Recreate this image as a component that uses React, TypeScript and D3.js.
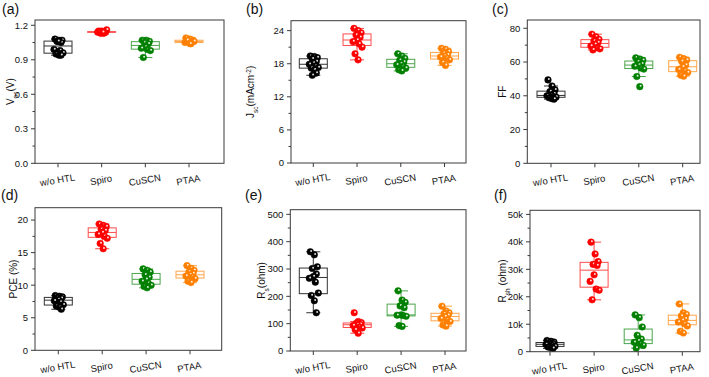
import React from "react";
import * as d3 from "d3";

const CATEGORIES = ["w/o HTL", "Spiro", "CuSCN", "PTAA"];
const COLORS = ["#000000", "#ff0000", "#008000", "#ff8000"];

const VOC = [
  [1.08, 1.07, 1.07, 1.06, 1.05, 1.06, 0.99, 0.98, 0.96, 0.95, 0.94, 0.94],
  [1.15, 1.14, 1.14, 1.13, 1.14, 1.15, 1.14, 1.13, 1.16, 1.14, 1.14],
  [1.07, 1.07, 1.06, 1.05, 1.04, 1.01, 1.0, 0.99, 0.98, 0.92],
  [1.09, 1.08, 1.07, 1.06, 1.06, 1.05, 1.05, 1.04, 1.06, 1.07, 1.04],
];
const JSC = [
  [19.4, 19.3, 19.1, 18.9, 18.4, 18.1, 17.9, 17.6, 17.3, 17.2, 16.9, 16.3, 15.9],
  [24.4, 24.0, 23.6, 23.2, 22.8, 22.3, 22.0, 21.6, 21.0, 19.8, 18.7],
  [19.8, 19.4, 19.0, 18.6, 18.3, 18.0, 17.8, 17.5, 17.2, 16.9, 16.7],
  [20.8, 20.6, 20.2, 19.9, 19.6, 19.4, 19.2, 19.0, 18.7, 18.2, 17.7],
];
const FF = [
  [49.4, 45.8, 43.5, 42.5, 41.2, 40.4, 40.0, 39.6, 39.2, 38.8, 38.3, 38.0],
  [76.5, 75.0, 73.5, 72.5, 71.5, 70.5, 69.5, 68.5, 67.8, 67.2],
  [62.5, 61.8, 61.0, 60.2, 59.0, 58.2, 57.5, 56.5, 55.8, 51.4, 45.4],
  [62.8, 62.0, 61.2, 60.4, 58.2, 57.2, 55.6, 54.8, 53.8, 52.2, 51.6],
];
const PCE = [
  [8.4, 8.3, 8.2, 8.1, 8.0, 7.8, 7.6, 7.4, 7.0, 6.8, 6.6, 6.3],
  [19.4, 19.2, 19.0, 18.6, 18.4, 18.1, 17.8, 17.5, 17.2, 16.4, 15.6],
  [12.5, 12.3, 12.0, 11.6, 11.2, 10.9, 10.6, 10.3, 10.0, 9.8, 9.6],
  [13.0, 12.6, 12.3, 12.0, 11.8, 11.6, 11.4, 11.2, 11.0, 10.6, 10.4],
];
const RS = [
  [363, 352, 308, 302, 282, 272, 266, 252, 212, 203, 184, 140],
  [140, 108, 104, 101, 98, 96, 93, 88, 84, 78, 65],
  [220, 186, 178, 165, 158, 132, 131, 130, 127, 93, 90],
  [164, 146, 140, 136, 131, 126, 119, 113, 108, 95, 91],
];
// in k-ohm
const RSH = [
  [4.1, 3.8, 3.5, 3.3, 3.0, 2.8, 2.6, 2.3, 2.0, 1.7, 1.4, 1.2],
  [39.9, 35.6, 32.8, 31.8, 31.4, 28.0, 25.6, 22.8, 22.4, 18.9],
  [13.4, 12.4, 9.0, 6.0, 4.6, 4.0, 3.4, 2.8, 2.3, 1.3],
  [17.4, 14.2, 13.6, 13.0, 12.0, 11.4, 10.8, 10.2, 9.4, 7.4, 6.8],
];

const VOC_TICKS = [0, 0.3, 0.6, 0.9, 1.2];
const JSC_TICKS = [0, 6, 12, 18, 24];
const FF_TICKS = [0, 20, 40, 60, 80];
const PCE_TICKS = [0, 5, 10, 15, 20];
const RS_TICKS = [0, 100, 200, 300, 400, 500];
const RSH_TICKS = [0, 10, 20, 30, 40, 50];

const FONT = "Arial, 'Liberation Sans', sans-serif";
const JITTER = [-3, 1, 4, -1, 3, 0, -4, 2, 5, -2, 1, 3, -1];

const sub = (t: string) => (
  <tspan baselineShift="sub" fontSize={6.5}>{t}</tspan>
);
const sup = (t: string) => (
  <tspan baselineShift="super" fontSize={6.5}>{t}</tspan>
);

const PANELS = [
  {
    label: "(a)", lx: 2, ly: 14, data: VOC, ticks: VOC_TICKS, fmt: (d: number) => d.toFixed(1),
    yMax: 1.246, l: 35, r: 224, t: 20, b: 163.3, c1: 58, c4: 189, tx: 10,
    title: <>V{sub("oc")}(V)</>,
  },
  {
    label: "(b)", lx: 246, ly: 14, data: JSC, ticks: JSC_TICKS, fmt: (d: number) => String(d),
    yMax: 25.8, l: 291, r: 466, t: 20.7, b: 163, c1: 313.3, c4: 444.5, tx: 250,
    title: <>J{sub("sc")}(mAcm{sup("-2")})</>,
  },
  {
    label: "(c)", lx: 492, ly: 14, data: FF, ticks: FF_TICKS, fmt: (d: number) => String(d),
    yMax: 84.9, l: 527.3, r: 700, t: 20, b: 163.3, c1: 551, c4: 682.7, tx: 502,
    title: <>FF</>,
  },
  {
    label: "(d)", lx: 1, ly: 200, data: PCE, ticks: PCE_TICKS, fmt: (d: number) => String(d),
    yMax: 21.9, l: 35, r: 221.7, t: 207.7, b: 350.3, c1: 58.3, c4: 190, tx: 13,
    title: <>PCE (%)</>,
  },
  {
    label: "(e)", lx: 245, ly: 200, data: RS, ticks: RS_TICKS, fmt: (d: number) => String(d),
    yMax: 517, l: 290.3, r: 466, t: 209.7, b: 351, c1: 313.3, c4: 445, tx: 261,
    title: <>R{sub("s")}(ohm)</>,
  },
  {
    label: "(f)", lx: 494, ly: 200, data: RSH, ticks: RSH_TICKS, fmt: (d: number) => (d === 0 ? "0" : d + "k"),
    yMax: 51.5, l: 530, r: 700, t: 210.3, b: 351.7, c1: 550, c4: 682.3, tx: 502,
    title: <>R{sub("sh")} (ohm)</>,
  },
];

function stats(values: number[]) {
  const s = [...values].sort(d3.ascending);
  const q1 = d3.quantileSorted(s, 0.25) as number;
  const med = d3.quantileSorted(s, 0.5) as number;
  const q3 = d3.quantileSorted(s, 0.75) as number;
  const iqr = q3 - q1;
  const lo = d3.min(s.filter((v) => v >= q1 - 1.5 * iqr)) as number;
  const hi = d3.max(s.filter((v) => v <= q3 + 1.5 * iqr)) as number;
  return { q1, med, q3, lo, hi };
}

function Panel({ p }: { p: (typeof PANELS)[number] }) {
  const x = d3.scalePoint<string>().domain(CATEGORIES).range([p.c1, p.c4]);
  const y = d3.scaleLinear().domain([0, p.yMax]).range([p.b, p.t]);
  const step = p.ticks[1] - p.ticks[0];
  const minors: number[] = [];
  for (let v = step / 2; v <= p.yMax; v += step) {
    if (!p.ticks.some((t) => Math.abs(t - v) < 1e-9)) minors.push(v);
  }
  const axisColor = "#3a3a3a";
  const bw = 28;
  const cw = 14;
  return (
    <g fontFamily={FONT}>
      <text x={p.lx} y={p.ly} fontSize={14} fill="#111">{p.label}</text>
      {/* boxes */}
      {p.data.map((vals, i) => {
        const st = stats(vals);
        const cx = x(CATEGORIES[i]) as number;
        const col = COLORS[i];
        return (
          <g key={"b" + i} stroke={col} strokeWidth={1} fill="none" opacity={i === 0 ? 0.8 : 0.7}>
            <line x1={cx} x2={cx} y1={y(st.hi)} y2={y(st.q3)} />
            <line x1={cx} x2={cx} y1={y(st.q1)} y2={y(st.lo)} />
            <line x1={cx - cw / 2} x2={cx + cw / 2} y1={y(st.hi)} y2={y(st.hi)} />
            <line x1={cx - cw / 2} x2={cx + cw / 2} y1={y(st.lo)} y2={y(st.lo)} />
            <rect x={cx - bw / 2} width={bw} y={y(st.q3)} height={Math.max(0.5, y(st.q1) - y(st.q3))} />
            <line x1={cx - bw / 2} x2={cx + bw / 2} y1={y(st.med)} y2={y(st.med)} />
          </g>
        );
      })}
      {/* points */}
      {p.data.map((vals, i) => {
        const cx = x(CATEGORIES[i]) as number;
        const col = COLORS[i];
        return (
          <g key={"p" + i}>
            {vals.map((v, j) => {
              const px = cx + JITTER[j % JITTER.length];
              const py = y(v);
              return (
                <g key={j}>
                  <circle cx={px} cy={py} r={3.3} fill={col} stroke={col} strokeWidth={0.5} />
                  <circle cx={px + 0.8} cy={py - 0.8} r={1.0} fill="#fff" opacity={0.85} />
                </g>
              );
            })}
          </g>
        );
      })}
      {/* frame */}
      <rect x={p.l} y={p.t} width={p.r - p.l} height={p.b - p.t} fill="none" stroke={axisColor} strokeWidth={1} />
      {/* y ticks */}
      {p.ticks.map((t) => (
        <g key={"t" + t}>
          <line x1={p.l - 4} x2={p.l} y1={y(t)} y2={y(t)} stroke={axisColor} />
          <text x={p.l - 7} y={y(t)} dy="0.35em" textAnchor="end" fontSize={9.5} fill="#111">
            {p.fmt(t)}
          </text>
        </g>
      ))}
      {minors.map((t) => (
        <line key={"m" + t} x1={p.l - 2.5} x2={p.l} y1={y(t)} y2={y(t)} stroke={axisColor} />
      ))}
      {/* x ticks */}
      {CATEGORIES.map((c) => {
        const cx = x(c) as number;
        return (
          <g key={c}>
            <line x1={cx} x2={cx} y1={p.b} y2={p.b + 4} stroke={axisColor} />
            <text
              x={cx}
              y={p.b + 20}
              textAnchor="middle"
              fontSize={9.5}
              fill="#111"
              transform={`rotate(-10 ${cx} ${p.b + 20})`}
            >
              {c}
            </text>
          </g>
        );
      })}
      <text
        transform={`translate(${p.tx},${(p.t + p.b) / 2}) rotate(-90)`}
        textAnchor="middle"
        dy="0.35em"
        fontSize={10}
        fill="#111"
      >
        {p.title}
      </text>
    </g>
  );
}

export default function App() {
  return (
    <svg
      width={709}
      height={377}
      style={{ position: "absolute", left: 0, top: 0, background: "#fff" }}
    >
      <rect width={709} height={377} fill="#fff" />
      {PANELS.map((p) => (
        <Panel key={p.label} p={p} />
      ))}
    </svg>
  );
}
